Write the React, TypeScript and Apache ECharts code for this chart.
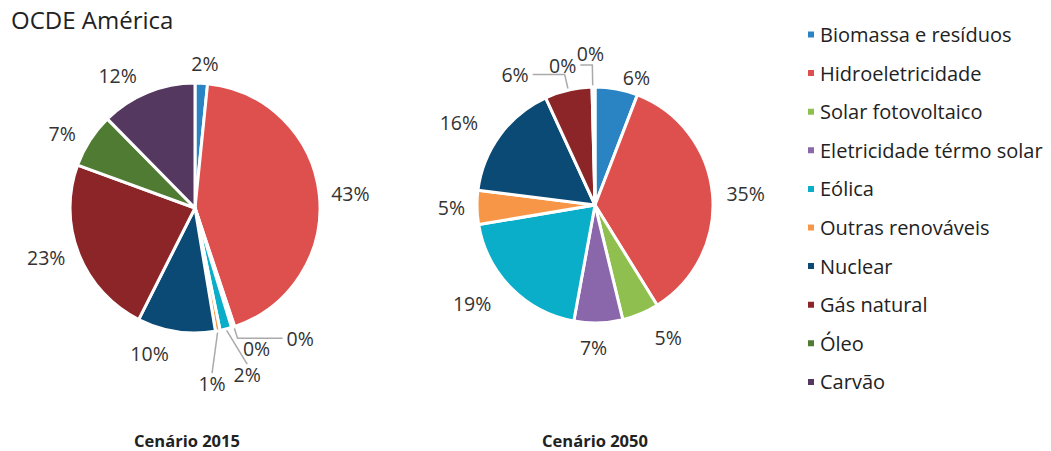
import React, { useEffect, useRef } from "react";
import * as echarts from "echarts";

const categories = [
  "Biomassa e resíduos",
  "Hidroeletricidade",
  "Solar fotovoltaico",
  "Eletricidade térmo solar",
  "Eólica",
  "Outras renováveis",
  "Nuclear",
  "Gás natural",
  "Óleo",
  "Carvão",
];
const colors = [
  "#2a84c4",
  "#de504d",
  "#8fbf4f",
  "#8a66ab",
  "#0aaec8",
  "#f79646",
  "#0b4a75",
  "#8b2527",
  "#507b32",
  "#54385f",
];
const values2015 = [1.6, 43, 0.2, 0.2, 1.5, 0.6, 10, 23, 7, 12.3];
const values2050 = [5.8, 35, 5, 6.6, 19.3, 4.6, 16, 6.4, 0.2, 0.2];
const scenarioTitles = ["Cenário 2015", "Cenário 2050"];
const mainTitle = "OCDE América";

const FONT = "'Open Sans', 'Noto Sans', sans-serif";

// label-line style per slice: [show, length, length2]
const lines2015: [boolean, number, number][] = [
  [false, 20, 0],
  [false, 8, 0],
  [true, 12, 45],
  [false, 22, 0],
  [true, 35, 0],
  [true, 42, 0],
  [false, 22, 0],
  [false, 10, 0],
  [false, 12, 0],
  [false, 18, 0],
];
const lines2050: [boolean, number, number][] = [
  [false, 12, 0],
  [false, 10, 0],
  [false, 26, 0],
  [false, 20, 0],
  [false, 22, 0],
  [false, 8, 0],
  [false, 22, 0],
  [true, 16, 32],
  [true, 22, 12],
  [false, 30, 0],
];
// label nudges (px) from the default outside position, by slice index
const shifts2015: Record<number, [number, number]> = {
  0: [-15, 0],
  4: [-5, 11],
  5: [-31, 11],
};
const shifts2050: Record<number, [number, number]> = {
  3: [-23, 5],
  9: [14, -4],
};

function buildData(values: number[], lines: [boolean, number, number][]) {
  return values.map((v, i) => ({
    name: categories[i],
    value: v,
    itemStyle: { color: colors[i] },
    labelLine: {
      show: lines[i][0],
      length: lines[i][1],
      length2: lines[i][2],
      lineStyle: { color: "#aaaaaa", width: 1.5 },
    },
  }));
}

function pieSeries(
  values: number[],
  lines: [boolean, number, number][],
  shifts: Record<number, [number, number]>,
  center: [number, number],
  radius: number
) {
  return {
    type: "pie",
    center,
    radius,
    startAngle: 90,
    clockwise: true,
    avoidLabelOverlap: false,
    data: buildData(values, lines),
    itemStyle: { borderColor: "#ffffff", borderWidth: 3 },
    label: {
      show: true,
      position: "outside",
      formatter: (p: any) => `${Math.round(p.value)}%`,
      fontFamily: FONT,
      fontSize: 19.5,
      color: "#333333",
      distanceToLabelLine: 4,
    },
    labelLayout: (params: any) => {
      const s = shifts[params.dataIndex];
      if (!s) return { hideOverlap: false };
      const r = params.labelRect;
      return {
        x: r.x + r.width / 2 + s[0],
        y: r.y + r.height / 2 + s[1],
        align: "center",
        verticalAlign: "middle",
        hideOverlap: false,
      };
    },
    emphasis: { disabled: true },
  };
}

export default function App() {
  const ref = useRef<HTMLDivElement>(null);
  useEffect(() => {
    document.body.style.margin = "0";
    if (!ref.current) return;
    const chart = echarts.init(ref.current, undefined, { renderer: "svg" });
    chart.setOption({
      animation: false,
      backgroundColor: "#ffffff",
      title: {
        text: mainTitle,
        left: 6,
        top: 2,
        textStyle: { fontFamily: FONT, fontSize: 24, fontWeight: "normal", color: "#222222" },
      },
      legend: {
        orient: "vertical",
        left: 801,
        top: 18.5,
        data: categories,
        icon: "rect",
        itemWidth: 8,
        itemHeight: 8,
        itemGap: 16.6,
        selectedMode: false,
        textStyle: { fontFamily: FONT, fontSize: 20, color: "#222222", lineHeight: 22 },
      },
      graphic: [
        {
          type: "text",
          x: 187,
          y: 440,
          style: {
            text: scenarioTitles[0],
            align: "center",
            verticalAlign: "middle",
            font: `bold 16.5px ${FONT}`,
            fill: "#222222",
          },
        },
        {
          type: "text",
          x: 595,
          y: 440,
          style: {
            text: scenarioTitles[1],
            align: "center",
            verticalAlign: "middle",
            font: `bold 16.5px ${FONT}`,
            fill: "#222222",
          },
        },
      ],
      series: [
        pieSeries(values2015, lines2015, shifts2015, [195, 208], 125),
        pieSeries(values2050, lines2050, shifts2050, [595, 205], 118),
      ],
    });
    return () => chart.dispose();
  }, []);
  return <div ref={ref} style={{ width: 1051, height: 451 }} />;
}
